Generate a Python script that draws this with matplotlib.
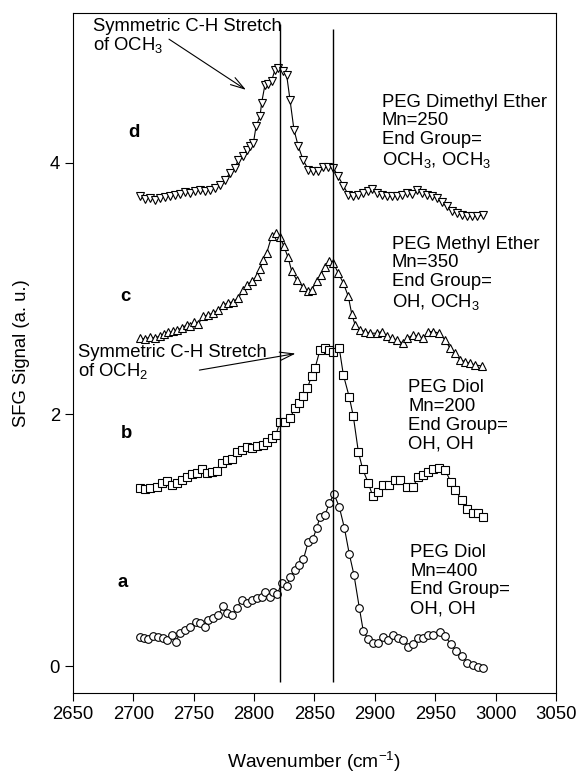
import matplotlib
matplotlib.use("Agg")
import matplotlib.pyplot as plt

plt.rcParams['font.family'] = ['Liberation Sans', 'DejaVu Sans']
plt.rcParams['mathtext.fontset'] = 'custom'
plt.rcParams['mathtext.rm'] = 'Liberation Sans'
plt.rcParams['mathtext.it'] = 'Liberation Sans'
plt.rcParams['mathtext.default'] = 'regular'

# a: PEG diol Mn=400 (circles)
wn_a = [2705.5, 2708.8, 2712.4, 2716.5, 2720.7, 2724.2, 2727.6, 2731.7, 2735.3, 2738.6,
        2742.8, 2746.9, 2751.9, 2755.2, 2759.3, 2762.1, 2766.2, 2770.4, 2774.5, 2777.3,
        2781.4, 2785.5, 2789.7, 2793.8, 2798.0, 2802.1, 2806.2, 2809.0, 2813.1, 2815.9,
        2819.2, 2822.8, 2827.0, 2829.7, 2833.9, 2837.5, 2840.8, 2844.9, 2848.5, 2851.8,
        2854.6, 2858.7, 2862.3, 2866.1, 2870.5, 2874.7, 2878.8, 2882.7, 2887.1, 2890.4,
        2894.6, 2898.7, 2902.8, 2907.0, 2911.1, 2915.3, 2919.4, 2923.5, 2927.7, 2931.8,
        2936.0, 2940.1, 2944.3, 2948.4, 2953.9, 2958.1, 2962.8, 2967.2, 2971.9, 2976.6,
        2981.0, 2985.6, 2989.8]
sig_a = [0.228, 0.22, 0.212, 0.238, 0.228, 0.22, 0.207, 0.246, 0.194, 0.265,
         0.286, 0.313, 0.352, 0.339, 0.313, 0.366, 0.379, 0.406, 0.477, 0.419,
         0.406, 0.459, 0.525, 0.499, 0.525, 0.538, 0.551, 0.591, 0.551, 0.591,
         0.572, 0.657, 0.636, 0.705, 0.763, 0.803, 0.848, 0.989, 1.007, 1.095,
         1.187, 1.201, 1.294, 1.368, 1.265, 1.10, 0.891, 0.724, 0.464, 0.278,
         0.212, 0.18, 0.18, 0.228, 0.207, 0.246, 0.22, 0.207, 0.154, 0.175,
         0.22, 0.22, 0.246, 0.246, 0.273, 0.238, 0.175, 0.122, 0.08, 0.027,
         0.008, -0.005, -0.018]

# b: PEG diol Mn=200 (squares)
wn_b = [2705.5, 2709.6, 2713.8, 2719.3, 2723.4, 2727.6, 2731.7, 2735.9, 2740.0, 2744.2,
        2748.3, 2752.4, 2756.6, 2760.7, 2764.8, 2769.0, 2773.1, 2777.3, 2781.4, 2785.5,
        2789.7, 2793.8, 2798.0, 2802.1, 2807.6, 2810.4, 2814.5, 2818.1, 2821.4, 2825.5,
        2829.7, 2833.9, 2837.5, 2840.8, 2844.1, 2847.6, 2850.4, 2854.6, 2858.7, 2862.3,
        2865.6, 2870.5, 2873.9, 2878.8, 2882.1, 2886.3, 2889.9, 2894.6, 2898.2, 2902.8,
        2907.0, 2911.9, 2916.7, 2920.8, 2926.4, 2931.8, 2936.0, 2940.1, 2944.3, 2948.4,
        2953.4, 2958.1, 2962.8, 2966.4, 2971.9, 2976.0, 2981.0, 2985.6, 2989.8]
sig_b = [1.413, 1.405, 1.411, 1.426, 1.453, 1.474, 1.439, 1.453, 1.479, 1.506,
         1.527, 1.537, 1.564, 1.537, 1.545, 1.553, 1.612, 1.638, 1.644, 1.704,
         1.718, 1.744, 1.731, 1.75, 1.757, 1.784, 1.811, 1.837, 1.943, 1.943,
         1.970, 2.049, 2.089, 2.147, 2.208, 2.306, 2.367, 2.513, 2.526, 2.513,
         2.499, 2.526, 2.314, 2.137, 1.988, 1.704, 1.564, 1.453, 1.352, 1.386,
         1.439, 1.439, 1.479, 1.479, 1.421, 1.426, 1.506, 1.519, 1.545, 1.564,
         1.572, 1.559, 1.466, 1.40, 1.32, 1.246, 1.219, 1.214, 1.187]

# c: PEG methyl ether Mn=350 (up triangles)
wn_c = [2705.5, 2709.6, 2713.8, 2717.9, 2722.1, 2725.4, 2729.0, 2733.1, 2736.4, 2740.0,
        2744.2, 2746.9, 2750.2, 2753.8, 2757.9, 2762.1, 2766.2, 2770.4, 2774.5, 2778.6,
        2782.8, 2786.9, 2791.1, 2794.4, 2798.0, 2802.1, 2804.9, 2807.6, 2810.4, 2814.5,
        2818.1, 2821.4, 2824.7, 2828.0, 2831.1, 2835.2, 2840.7, 2844.9, 2847.6, 2851.8,
        2855.1, 2858.7, 2862.3, 2865.6, 2869.7, 2873.9, 2878.0, 2880.8, 2883.6, 2887.7,
        2891.9, 2896.0, 2901.5, 2905.6, 2909.8, 2913.9, 2918.1, 2923.0, 2926.9, 2931.8,
        2936.0, 2940.1, 2944.3, 2948.4, 2953.4, 2958.1, 2962.2, 2966.4, 2970.5, 2974.6,
        2978.8, 2982.9, 2988.4]
sig_c = [2.606, 2.598, 2.614, 2.606, 2.624, 2.640, 2.651, 2.659, 2.672, 2.685,
         2.712, 2.704, 2.738, 2.72, 2.778, 2.791, 2.804, 2.831, 2.871, 2.884,
         2.897, 2.924, 2.99, 3.03, 3.056, 3.096, 3.155, 3.229, 3.282, 3.414,
         3.441, 3.41, 3.335, 3.25, 3.14, 3.07, 3.01, 2.977, 2.99, 3.056,
         3.109, 3.175, 3.215, 3.202, 3.123, 3.043, 2.937, 2.80, 2.712, 2.672,
         2.658, 2.645, 2.645, 2.658, 2.619, 2.605, 2.592, 2.566, 2.605, 2.632,
         2.619, 2.605, 2.658, 2.658, 2.645, 2.592, 2.526, 2.486, 2.433, 2.420,
         2.406, 2.393, 2.385]

# d: PEG dimethyl ether Mn=250 (down triangles)
wn_d = [2705.5, 2709.6, 2713.8, 2717.9, 2722.1, 2726.2, 2730.4, 2734.5, 2738.6, 2742.8,
        2746.9, 2751.0, 2755.2, 2759.3, 2763.5, 2767.6, 2771.8, 2775.9, 2780.0, 2784.2,
        2786.9, 2791.1, 2793.8, 2796.6, 2799.4, 2801.6, 2804.9, 2806.2, 2809.0, 2811.8,
        2814.5, 2817.3, 2820.0, 2823.6, 2826.9, 2829.7, 2833.0, 2836.6, 2840.5, 2844.9,
        2849.0, 2853.2, 2857.3, 2861.4, 2865.6, 2869.7, 2873.9, 2878.0, 2882.1, 2886.3,
        2890.4, 2894.6, 2897.3, 2901.5, 2905.6, 2909.8, 2913.9, 2918.1, 2922.2, 2926.4,
        2930.5, 2934.6, 2938.8, 2942.9, 2947.1, 2951.2, 2955.3, 2959.5, 2963.6, 2967.8,
        2971.9, 2976.0, 2980.2, 2984.3, 2989.8]
sig_d = [3.732, 3.711, 3.719, 3.706, 3.719, 3.727, 3.738, 3.746, 3.753, 3.764,
         3.759, 3.772, 3.780, 3.772, 3.785, 3.798, 3.825, 3.865, 3.918, 3.958,
         4.024, 4.05, 4.103, 4.13, 4.156, 4.289, 4.368, 4.475, 4.620, 4.626,
         4.652, 4.740, 4.753, 4.726, 4.70, 4.501, 4.262, 4.13, 4.024, 3.944,
         3.931, 3.931, 3.966, 3.966, 3.958, 3.891, 3.817, 3.746, 3.732, 3.746,
         3.759, 3.772, 3.791, 3.759, 3.746, 3.732, 3.732, 3.739, 3.746, 3.759,
         3.753, 3.780, 3.759, 3.746, 3.732, 3.719, 3.684, 3.653, 3.613, 3.6,
         3.586, 3.579, 3.573, 3.573, 3.586]

peak_lines = [2821.4, 2865.6]

fig = plt.figure(figsize=(5.81, 7.77), dpi=100)
ax = fig.add_axes([0.1256, 0.108, 0.8314, 0.8753])

style = dict(color='black', lw=0.8, mfc='white', mec='black', mew=0.8, ms=5.5)
ax.plot(wn_a, sig_a, marker='o', **style)
ax.plot(wn_b, sig_b, marker='s', **style)
ax.plot(wn_c, sig_c, marker='^', **style)
ax.plot(wn_d, sig_d, marker='v', **style)

ax.vlines(peak_lines[0], -0.13, 5.1, color='black', lw=1.0)
ax.vlines(peak_lines[1], -0.13, 5.06, color='black', lw=1.0)

fs = 13.3
ls = 1.13
ax.text(2700.5, 4.24, 'd', fontsize=fs, fontweight='bold', ha='center', va='center')
ax.text(2693, 2.94, 'c', fontsize=fs, fontweight='bold', ha='center', va='center')
ax.text(2694, 1.85, 'b', fontsize=fs, fontweight='bold', ha='center', va='center')
ax.text(2691.5, 0.66, 'a', fontsize=fs, fontweight='bold', ha='center', va='center')

ax.text(2905.6, 4.55, 'PEG Dimethyl Ether\nMn=250\nEnd Group=\nOCH$_3$, OCH$_3$',
        fontsize=fs, ha='left', va='top', linespacing=ls)
ax.text(2913.9, 3.42, 'PEG Methyl Ether\nMn=350\nEnd Group=\nOH, OCH$_3$',
        fontsize=fs, ha='left', va='top', linespacing=ls)
ax.text(2927.7, 2.28, 'PEG Diol\nMn=200\nEnd Group=\nOH, OH',
        fontsize=fs, ha='left', va='top', linespacing=ls)
ax.text(2929.1, 0.97, 'PEG Diol\nMn=400\nEnd Group=\nOH, OH',
        fontsize=fs, ha='left', va='top', linespacing=ls)

ax.text(2666.6, 5.15, 'Symmetric C-H Stretch\nof OCH$_3$', fontsize=fs,
        ha='left', va='top', linespacing=1.0)
ax.annotate('', xy=(2795.2, 4.567), xytext=(2727.6, 4.994),
            arrowprops=dict(arrowstyle='->,head_length=1.0,head_width=0.3', color='black', lw=0.8))
ax.text(2654, 2.56, 'Symmetric C-H Stretch\nof OCH$_2$', fontsize=fs,
        ha='left', va='top', linespacing=1.0)
ax.annotate('', xy=(2836.6, 2.487), xytext=(2752.4, 2.348),
            arrowprops=dict(arrowstyle='->,head_length=1.0,head_width=0.3', color='black', lw=0.8))

ax.set_xlim(2650, 3050)
ax.set_ylim(-0.215, 5.19)
ax.set_xticks(range(2650, 3051, 50))
ax.set_yticks([0, 2, 4])
ax.tick_params(direction='out', length=6, width=0.8, labelsize=fs, top=False, right=False)
for sp in ax.spines.values():
    sp.set_linewidth(0.8)

ax.set_xlabel('Wavenumber (cm$^{-1}$)', fontsize=fs + 0.5, labelpad=19)
ax.set_ylabel('SFG Signal (a. u.)', fontsize=fs, labelpad=14)

fig.savefig('out.png', dpi=100)
